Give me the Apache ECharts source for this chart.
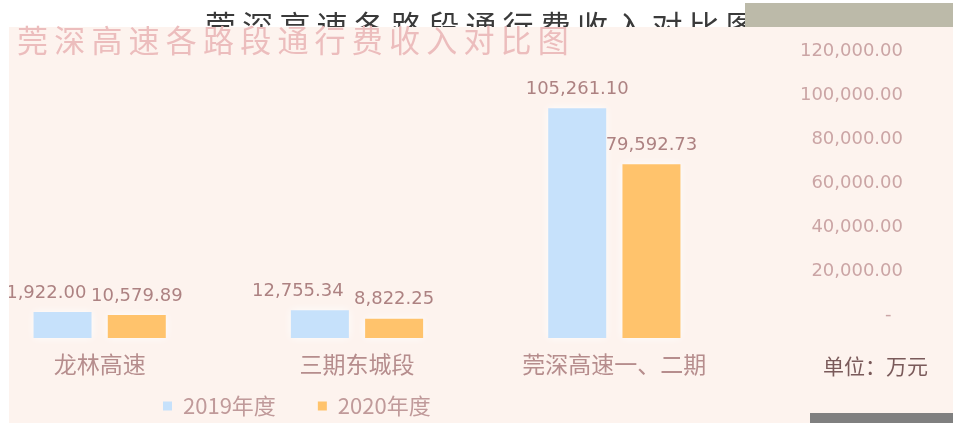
<!DOCTYPE html>
<html>
<head>
<meta charset="utf-8">
<script src="https://cdn.jsdelivr.net/npm/echarts@6/dist/echarts.min.js"></script>
<style>
  html, body { margin: 0; padding: 0; background: #fff; overflow: hidden; }
  /* the plot starts left of the page edge, so the first label is cut off as in the source */
  #chart { position: absolute; left: -29px; top: 0; width: 982px; height: 423px; }
</style>
</head>
<body>
<div id="chart"></div>
<script>
const titleText = '莞深高速各路段通行费收入对比图'
const unitText = '单位：万元'
const categories = ['龙林高速', '三期东城段', '莞深高速一、二期']
const seriesNames = ['2019年度', '2020年度']
const values2019 = [11922.00, 12755.34, 105261.10]
const values2020 = [10579.89, 8822.25, 79592.73]
const yMin = 0
const yMax = 120000
const yStep = 20000

const SHIFT = 29 // container is moved left by this much
const BLUE = '#c6e1fb'
const ORANGE = '#ffc36c'
const LABEL = '#ad8282'
const AXIS_LABEL = '#cba5a5'

const spaced = s => s.split('').join('\u2009')
const fmt = v => v.toLocaleString('en-US', { minimumFractionDigits: 2, maximumFractionDigits: 2 })

const chart = echarts.init(document.getElementById('chart'))

const barLabel = {
    show: true,
    position: 'top',
    distance: 10,
    color: LABEL,
    fontSize: 18,
    fontFamily: 'DejaVu Sans',
    formatter: p => fmt(p.value),
}

// short 2019 bars: their labels sit nudged left, away from the 2020 label
const data2019 = values2019.map(v => (v < 20000 ? { value: v, label: { offset: [-22, 0] } } : v))

const option = {
    backgroundColor: '#ffffff',
    animation: false,
    title: {
        text: spaced(titleText),
        left: 12 + SHIFT,
        top: 20,
        textStyle: {
            color: '#ecbdbd',
            fontSize: 31,
            fontWeight: 'normal',
            fontFamily: 'Noto Sans CJK SC',
        },
    },
    legend: {
        data: seriesNames,
        left: 158 + SHIFT,
        top: 390,
        icon: 'rect',
        itemWidth: 9,
        itemHeight: 9,
        itemGap: 42,
        textStyle: {
            color: '#c09a9a',
            fontSize: 22,
            fontFamily: 'Noto Sans CJK SC',
            padding: [0, 0, 0, 6],
        },
    },
    graphic: [
        {
            type: 'text',
            left: 205 + SHIFT,
            top: 11,
            style: {
                text: spaced(titleText),
                fill: '#3a3a3a',
                font: '31px "Noto Sans CJK SC"',
            },
        },
        {
            type: 'rect',
            shape: { x: 9 + SHIFT, y: 27, width: 944, height: 396 },
            style: { fill: '#fdf3ee' },
        },
        {
            type: 'rect',
            shape: { x: 745 + SHIFT, y: 3, width: 208, height: 24 },
            style: { fill: '#bcbaa9' },
        },
        {
            type: 'rect',
            shape: { x: 810 + SHIFT, y: 413, width: 143, height: 10 },
            style: { fill: '#808080' },
        },
        {
            type: 'rect',
            z: 100,
            shape: { x: 0, y: 0, width: 9 + SHIFT, height: 423 },
            style: { fill: '#ffffff' },
        },
        {
            type: 'text',
            left: 823 + SHIFT,
            top: 356,
            style: {
                text: unitText,
                fill: '#7a5a5a',
                font: '21px "Noto Sans CJK SC"',
            },
        },
    ],
    grid: [
        { left: SHIFT - 29, width: 772, top: 76, height: 262 },
        { left: 911 + SHIFT, width: 10, top: 51, height: 264 },
    ],
    xAxis: [
        {
            type: 'category',
            gridIndex: 0,
            data: categories,
            axisLine: { show: false },
            axisTick: { show: false },
            axisLabel: {
                margin: 15,
                color: '#b68d8d',
                fontSize: 23,
                fontFamily: 'Noto Sans CJK SC',
            },
        },
        { type: 'category', gridIndex: 1, show: false, data: [''] },
    ],
    yAxis: [
        {
            type: 'value',
            gridIndex: 0,
            min: yMin,
            max: yMax,
            interval: yStep,
            show: false,
        },
        {
            type: 'value',
            gridIndex: 1,
            min: yMin,
            max: yMax,
            interval: yStep,
            axisLine: { show: false },
            axisTick: { show: false },
            splitLine: { show: false },
            axisLabel: {
                margin: 8,
                color: AXIS_LABEL,
                fontSize: 18,
                fontFamily: 'DejaVu Sans',
                formatter: v => (v === 0 ? '-  ' : fmt(v)),
            },
        },
    ],
    series: [
        {
            name: seriesNames[0],
            type: 'bar',
            data: data2019,
            barWidth: 58,
            barGap: '28%',
            itemStyle: { color: BLUE, shadowBlur: 8, shadowColor: 'rgba(255,255,255,0.9)' },
            label: barLabel,
        },
        {
            name: seriesNames[1],
            type: 'bar',
            data: values2020,
            barWidth: 58,
            barGap: '28%',
            itemStyle: { color: ORANGE, shadowBlur: 8, shadowColor: 'rgba(255,255,255,0.9)' },
            label: barLabel,
        },
    ],
}

chart.setOption(option)
</script>
</body>
</html>
